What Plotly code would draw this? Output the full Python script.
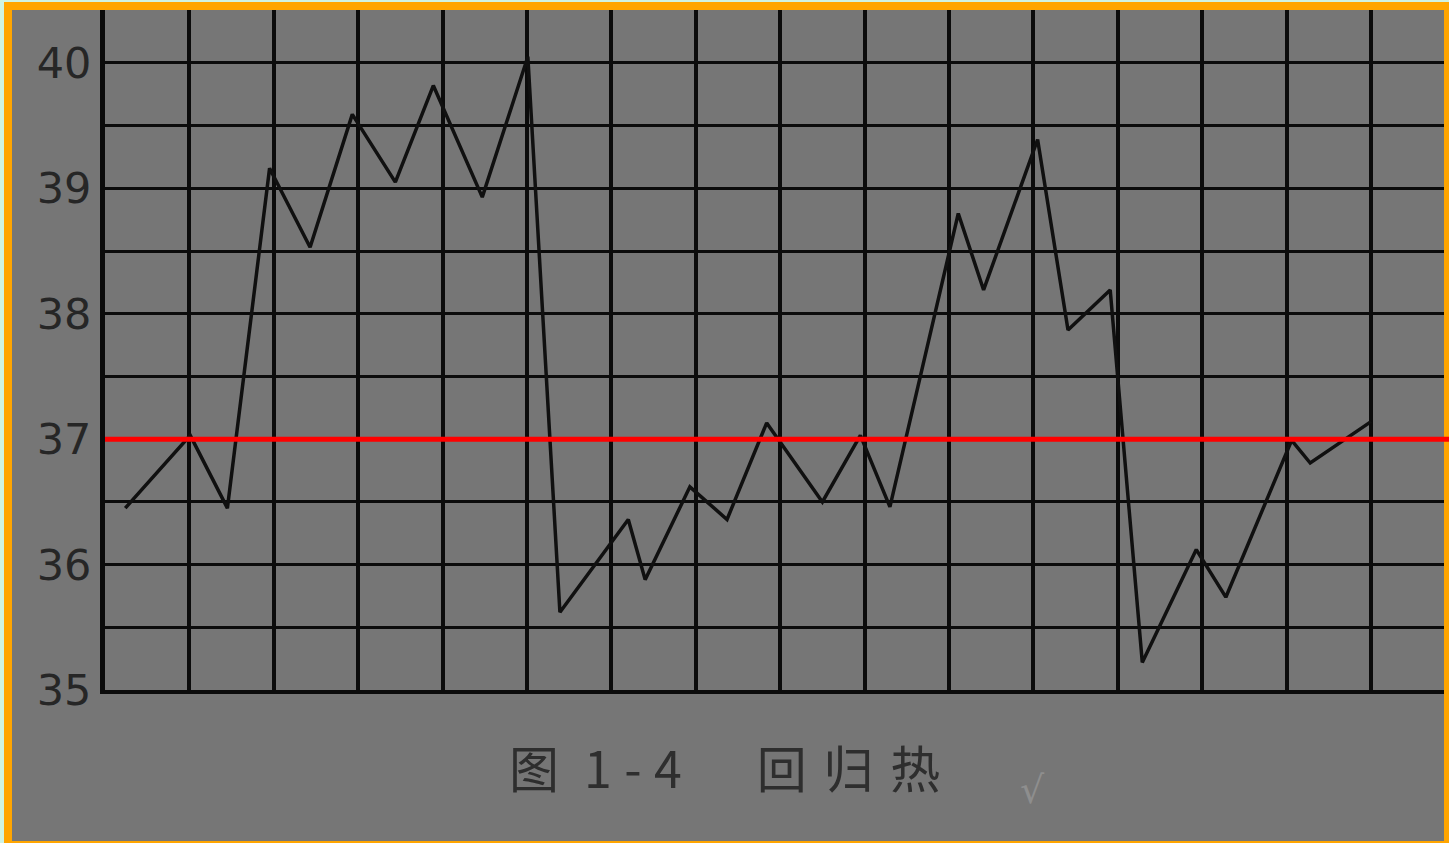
import plotly.graph_objects as go

# ---- data ----
days = [0.24, 1.01, 1.45, 1.95, 2.43, 2.93, 3.44, 3.89, 4.47, 5.01,
        5.39, 6.20, 6.40, 6.93, 7.37, 7.84, 8.50, 8.95, 9.30, 10.11,
        10.41, 11.05, 11.41, 11.91, 12.29, 12.93, 13.28, 14.06, 14.28, 15.00]
temps = [36.45, 37.03, 36.45, 39.16, 38.53, 39.59, 39.05, 39.82, 38.93, 40.05,
         35.62, 36.36, 35.88, 36.62, 36.36, 37.13, 36.50, 37.03, 36.46, 38.80,
         38.19, 39.39, 37.87, 38.19, 35.22, 36.12, 35.74, 36.99, 36.81, 37.14]
y_tickvals = [35, 35.5, 36, 36.5, 37, 37.5, 38, 38.5, 39, 39.5, 40]
y_ticktext = ["35", "", "36", "", "37", "", "38", "", "39", "", "40"]
normal_temp = 37
caption = "图\u20021\u2005-\u20054\u3000\u2002回\u2004归\u2004热"

W, H = 1449, 843
ML, MR, MT, MB = 105, 5, 10, 153
PW, PH = W - ML - MR, H - MT - MB


def px_x(p):
    return (p - ML) / PW


def px_y(p):
    return (H - MB - p) / PH


BG = "#767676"
ORANGE = "#FFA500"
MINT = "#CFF3E3"
GRID = "#0b0b0b"

fig = go.Figure()
fig.add_trace(go.Scatter(
    x=days, y=temps, mode="lines",
    line=dict(color="#101010", width=3.5),
    hoverinfo="skip", showlegend=False,
))

shapes = [
    # orange frame / grey inner area / mint edges
    dict(type="rect", xref="paper", yref="paper",
         x0=px_x(12), x1=px_x(1444), y0=px_y(841), y1=px_y(10),
         fillcolor=BG, line=dict(width=0), layer="below"),
    dict(type="rect", xref="paper", yref="paper",
         x0=px_x(0), x1=px_x(4), y0=px_y(843), y1=px_y(0),
         fillcolor=MINT, line=dict(width=0), layer="below"),
    dict(type="rect", xref="paper", yref="paper",
         x0=px_x(0), x1=px_x(1449), y0=px_y(2), y1=px_y(0),
         fillcolor=MINT, line=dict(width=0), layer="below"),
    # red normal-temperature line
    dict(type="line", xref="paper", yref="y",
         x0=0, x1=px_x(1449), y0=normal_temp, y1=normal_temp,
         line=dict(color="#FF0000", width=5), layer="above"),
]

fig.update_layout(
    width=W, height=H,
    margin=dict(l=ML, r=MR, t=MT, b=MB, pad=0),
    paper_bgcolor=ORANGE,
    plot_bgcolor=BG,
    shapes=shapes,
    showlegend=False,
    xaxis=dict(
        range=[0, PW / 84.4],
        dtick=1, tick0=0,
        showgrid=True, gridcolor=GRID, gridwidth=4,
        showticklabels=False, ticks="",
        zeroline=False,
        showline=True, linecolor=GRID, linewidth=4,
        fixedrange=True,
    ),
    yaxis=dict(
        range=[35, 40 + 53 / 125.46],
        tickmode="array", tickvals=y_tickvals, ticktext=y_ticktext,
        showgrid=True, gridcolor=GRID, gridwidth=3,
        ticks="", ticklabelstandoff=0,
        tickfont=dict(family="DejaVu Sans", size=43, color="#262626"),
        zeroline=False,
        showline=True, linecolor=GRID, linewidth=5,
        fixedrange=True,
    ),
    annotations=[
        dict(text=caption, xref="paper", yref="paper",
             x=px_x(724), y=px_y(766), xanchor="center", yanchor="middle",
             showarrow=False,
             font=dict(family="Noto Sans CJK SC", size=50, color="#2e2e2e")),
        dict(text="√", xref="paper", yref="paper",
             x=px_x(1032), y=px_y(790), xanchor="center", yanchor="middle",
             showarrow=False,
             font=dict(family="DejaVu Sans", size=38, color="#8e8e8e")),
    ],
)

fig.write_html(
    "out.html",
    config={"displayModeBar": False, "staticPlot": True},
    post_script="document.body.style.margin='0';document.body.style.overflow='hidden';",
)
